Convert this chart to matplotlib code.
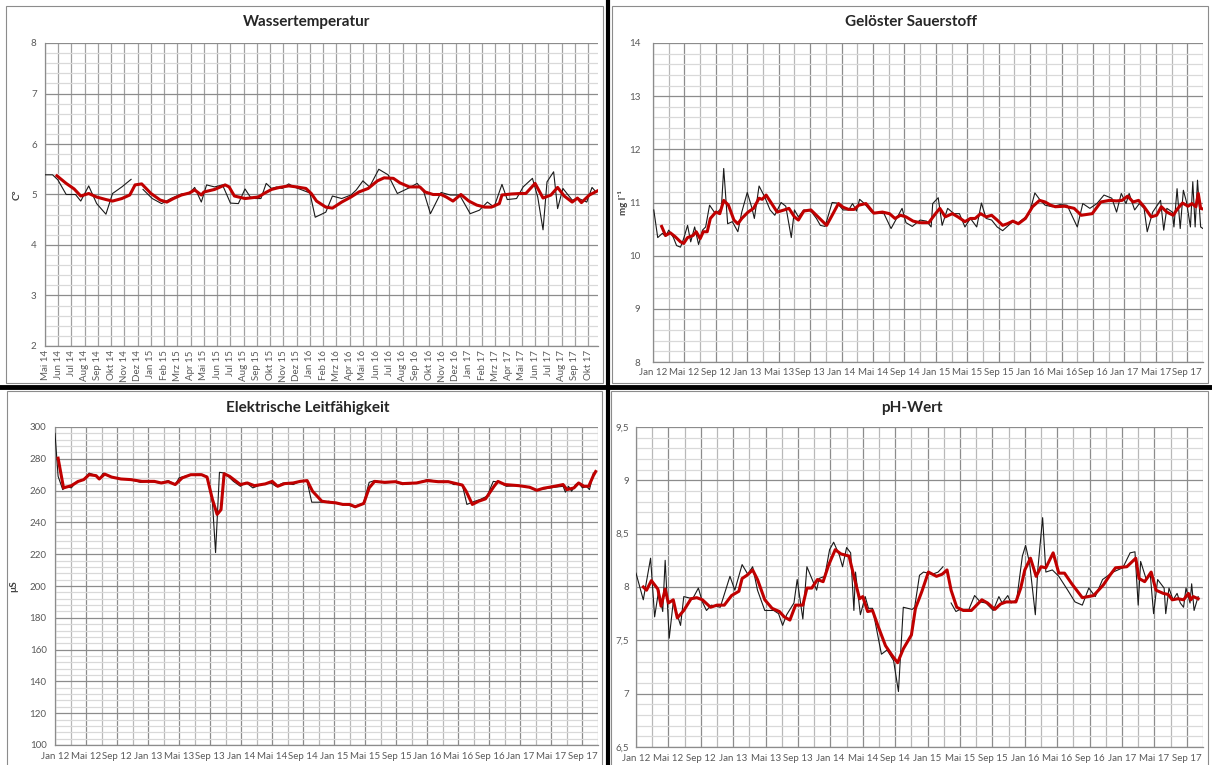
import numpy as np
import matplotlib
matplotlib.use('Agg')
import matplotlib.pyplot as plt
from matplotlib.ticker import MultipleLocator, FixedLocator, FuncFormatter
from matplotlib.lines import Line2D
from matplotlib.patches import Rectangle

plt.rcParams['font.family'] = ['Lato', 'DejaVu Sans']

MONATE = ['Jan', 'Feb', 'Mrz', 'Apr', 'Mai', 'Jun', 'Jul', 'Aug', 'Sep', 'Okt', 'Nov', 'Dez']
nan = np.nan

# Wassertemperatur (x = Kategorie-Index, 0 = Mai 14)
temp_x = [0, 0.57, 0.97, 1.6, 2.3, 2.7, 3.3, 3.9, 4.6, 5.1,
          5.8, 6.5, 6.9, 7.4, 8.1, 8.8, 9.5, 10.3, 10.9, 11.3,
          11.8, 12.2, 12.8, 13.4, 14.0, 14.6, 15.1, 15.5, 15.9, 16.3,
          16.7, 17.1, 17.5, 17.9, 18.4, 18.8, 19.4, 20.0, 20.4, 21.2,
          21.7, 22.4, 23.1, 23.5, 24.0, 24.5, 25.2, 25.9, 26.6, 27.4,
          28.1, 28.6, 29.1, 29.9, 30.6, 31.3, 32.1, 32.8, 33.4, 33.9,
          34.5, 34.9, 35.6, 36.1, 36.8, 37.2, 37.6, 37.9, 38.4, 38.7,
          39.1, 39.8, 40.3, 40.9, 41.3, 41.6]
temp_y = [5.39, 5.39, 5.29, 5.00, 5.00, 4.87, 5.17, 4.82, 4.61, 5.02,
          5.15, 5.30, nan, 5.10, 4.92, 4.82, 4.92, 5.01, 5.02, 5.14,
          4.85, 5.19, 5.15, 5.19, 4.83, 4.82, 5.11, 4.95, 4.92, 4.92,
          5.22, 5.12, 5.15, 5.12, 5.21, 5.15, 5.09, 5.03, 4.55, 4.65,
          4.97, 4.92, 4.99, 5.09, 5.27, 5.15, 5.50, 5.39, 5.02, 5.12,
          5.22, 5.05, 4.62, 5.04, 4.99, 4.99, 4.62, 4.69, 4.85, 4.75,
          5.20, 4.90, 4.92, 5.15, 5.32, 4.95, 4.30, 5.25, 5.45, 4.72,
          5.12, 4.89, 4.92, 4.85, 5.14, 5.05]
temp_avg_x = [0.9, 1.6, 2.2, 2.7, 3.3, 3.9, 4.6, 5.1, 5.8, 6.4,
              6.8, 7.3, 8.0, 8.7, 9.2, 9.7, 10.3, 10.9, 11.3, 11.8,
              12.0, 12.8, 13.6, 13.9, 14.3, 15.1, 16.1, 16.6, 17.1, 17.7,
              18.4, 19.0, 19.7, 20.1, 20.5, 21.2, 21.7, 22.4, 23.1, 23.7,
              24.4, 25.1, 25.6, 26.3, 26.8, 27.5, 28.3, 28.7, 29.3, 29.9,
              30.3, 30.8, 31.4, 32.0, 32.6, 33.2, 33.7, 34.3, 34.5, 35.2,
              35.9, 36.3, 37.0, 37.6, 38.2, 38.7, 39.2, 39.8, 40.2, 40.5,
              41.1, 41.7]
temp_avg_y = [5.37, 5.22, 5.11, 4.97, 5.02, 4.95, 4.90, 4.87, 4.92, 4.99,
              5.19, 5.21, 5.02, 4.89, 4.85, 4.92, 4.99, 5.03, 5.09, 4.99,
              5.05, 5.10, 5.19, 5.15, 4.97, 4.92, 4.95, 5.03, 5.10, 5.14,
              5.17, 5.15, 5.12, 5.02, 4.87, 4.75, 4.73, 4.85, 4.95, 5.05,
              5.12, 5.27, 5.33, 5.32, 5.23, 5.15, 5.15, 5.05, 5.00, 5.00,
              4.95, 4.87, 5.00, 4.87, 4.79, 4.75, 4.75, 4.82, 4.99, 5.01,
              5.02, 5.02, 5.22, 4.93, 4.99, 5.14, 4.97, 4.85, 4.93, 4.84,
              4.99, 5.07]

# Gelöster Sauerstoff (x = Monate seit Jan 12)
o2_x = [0.1, 0.6, 1.2, 1.6, 2.0, 2.6, 3.0, 3.5, 3.9, 4.4,
        4.8, 5.3, 5.8, 6.3, 6.7, 7.2, 7.8, 8.2, 8.7, 9.0,
        9.5, 10.1, 10.8, 11.3, 12.0, 12.6, 12.9, 13.5, 14.2, 14.9,
        15.5, 16.3, 16.9, 17.6, 18.0, 18.5, 19.2, 20.1, 20.8, 21.3,
        21.9, 22.8, 23.4, 24.2, 24.9, 25.4, 25.9, 26.3, 26.9, 27.8,
        28.7, 29.4, 30.3, 31.0, 31.7, 32.2, 33.0, 34.0, 34.8, 35.4,
        35.6, 36.3, 36.8, 37.5, 38.3, 39.0, 39.7, 40.4, 41.2, 41.8,
        42.4, 43.1, 43.8, 44.5, 45.1, 45.8, 46.5, 47.2, 47.9, 48.6,
        49.2, 49.9, 50.8, 51.8, 52.7, 53.3, 54.0, 54.7, 55.6, 56.5,
        57.4, 58.4, 59.0, 59.6, 60.2, 60.6, 61.3, 61.9, 62.5, 62.9,
        63.6, 64.6, 65.0, 65.4, 66.1, 66.3, 66.7, 67.1, 67.5, 67.9,
        68.4, 68.7, 69.0, 69.3, 69.7, 70.3]
o2_y = [10.86, 10.34, 10.42, 10.36, 10.48, 10.34, 10.19, 10.16, 10.32, 10.57,
        10.26, 10.54, 10.21, 10.48, 10.54, 10.95, 10.82, 10.82, 10.89, 11.64,
        10.60, 10.64, 10.45, 10.82, 11.19, 10.89, 10.70, 11.31, 11.11, 10.86,
        10.76, 11.00, 10.93, 10.34, 10.86, 10.73, 10.86, 10.84, 10.70, 10.57,
        10.55, 11.00, 10.99, 10.86, 10.86, 10.98, 10.84, 11.06, 10.98, 10.82,
        10.80, 10.79, 10.51, 10.70, 10.89, 10.62, 10.55, 10.67, 10.65, 10.54,
        10.98, 11.09, 10.57, 10.89, 10.79, 10.79, 10.54, 10.70, 10.54, 10.99,
        10.70, 10.67, 10.54, 10.47, 10.55, 10.64, 10.62, 10.70, 10.79, 11.18,
        11.06, 10.95, 10.92, 10.96, 10.95, 10.76, 10.54, 10.98, 10.89, 10.98,
        11.14, 11.08, 10.82, 11.17, 10.98, 11.17, 10.86, 10.98, 10.89, 10.45,
        10.82, 11.04, 10.48, 10.89, 10.82, 10.54, 11.26, 10.51, 11.23, 11.01,
        10.54, 11.39, 10.54, 11.42, 10.54, 10.48]
o2_avg_x = [1.1, 1.6, 2.2, 2.8, 3.5, 3.9, 4.4, 5.1, 5.5, 6.0,
            6.4, 6.9, 7.3, 8.0, 8.5, 9.0, 9.6, 10.3, 10.8, 11.3,
            12.1, 12.8, 13.5, 13.9, 14.4, 15.1, 15.8, 16.7, 17.3, 18.0,
            18.5, 19.2, 20.1, 21.0, 22.1, 22.8, 23.6, 24.2, 24.9, 25.6,
            26.2, 27.1, 28.1, 29.2, 30.1, 30.8, 31.5, 32.2, 33.1, 34.0,
            35.1, 35.8, 36.5, 37.2, 38.1, 38.8, 39.7, 40.4, 41.0, 41.7,
            42.4, 43.1, 43.8, 44.5, 45.1, 45.8, 46.5, 47.4, 48.3, 49.2,
            49.9, 50.6, 51.2, 52.4, 53.6, 54.5, 55.9, 57.0, 58.1, 59.0,
            59.7, 60.4, 61.1, 61.8, 62.5, 63.4, 64.1, 64.7, 65.4, 66.2,
            66.8, 67.4, 68.1, 68.6, 69.1, 69.4, 69.7, 70.2]
o2_avg_y = [10.55, 10.38, 10.43, 10.36, 10.26, 10.23, 10.34, 10.38, 10.45, 10.32,
            10.45, 10.45, 10.70, 10.82, 10.79, 11.04, 10.95, 10.67, 10.60, 10.70,
            10.82, 10.89, 11.08, 11.06, 11.14, 10.98, 10.82, 10.86, 10.89, 10.73,
            10.67, 10.84, 10.86, 10.73, 10.57, 10.76, 10.98, 10.91, 10.87, 10.87,
            10.95, 10.98, 10.80, 10.82, 10.79, 10.70, 10.76, 10.73, 10.65, 10.62,
            10.62, 10.76, 10.89, 10.73, 10.79, 10.73, 10.64, 10.70, 10.70, 10.79,
            10.73, 10.76, 10.67, 10.57, 10.60, 10.65, 10.60, 10.70, 10.92, 11.04,
            11.01, 10.95, 10.92, 10.93, 10.89, 10.76, 10.79, 11.01, 11.04, 11.03,
            11.04, 11.12, 11.01, 11.04, 10.92, 10.73, 10.76, 10.92, 10.82, 10.76,
            10.89, 10.99, 10.93, 10.98, 10.92, 11.17, 10.89, 10.87]

# Elektrische Leitfähigkeit (x = Monate seit Jan 12)
lf_x = [0.0, 0.4, 1.0, 1.4, 2.1, 2.8, 3.7, 4.4, 5.0, 5.7,
        6.2, 7.3, 8.5, 9.8, 11.0, 12.1, 13.5, 14.6, 15.5, 16.0,
        17.5, 18.7, 19.6, 20.3, 20.7, 21.2, 21.9, 23.0, 23.9, 24.6,
        25.5, 26.6, 27.8, 28.5, 29.4, 30.7, 31.6, 32.5, 33.1, 34.8,
        35.3, 36.2, 37.5, 38.5, 39.8, 40.5, 41.2, 42.5, 43.9, 44.8,
        46.6, 48.0, 49.4, 50.7, 51.4, 52.5, 53.1, 54.1, 54.8, 55.7,
        56.5, 57.3, 58.2, 59.4, 60.7, 62.1, 63.0, 64.4, 65.5, 65.8,
        66.2, 66.6, 67.1, 67.5, 68.0, 68.5, 68.9, 69.4]
lf_y = [296, 269, 260.6, 262.7, 261.7, 265.8, 266.9, 271, 270, 266.9,
        271, 268.5, 267.3, 266.9, 265.2, 265.8, 264.8, 266.3, 263.8, 268,
        270, 270.4, 269, 252.3, 221, 271.5, 271, 265.8, 262.7, 265.2,
        261.7, 263.8, 264.8, 262.7, 264.8, 263.8, 265.8, 265.8, 252.7, 252.7,
        253.3, 251.9, 251.3, 249.8, 252.3, 265.2, 266.3, 264.8, 265.4, 263.8,
        264.8, 266.9, 265.8, 265.8, 263.8, 263.8, 251.3, 253.3, 254.4, 256.5,
        265.8, 265.2, 262.7, 263.1, 262.7, 260.2, 261, 262.1, 262.7, 259,
        262.7, 259.6, 263.8, 264.8, 261.7, 262.7, 260.6, 271]
lf_avg_x = [0.4, 1.1, 2.1, 3.0, 3.7, 4.4, 5.3, 5.7, 6.4, 7.3,
            8.5, 9.8, 11.2, 12.8, 13.7, 14.6, 15.5, 16.4, 17.5, 18.9,
            19.6, 20.3, 20.9, 21.4, 21.8, 22.5, 23.9, 24.8, 25.7, 27.1,
            28.0, 28.7, 29.6, 30.7, 31.6, 32.5, 33.2, 34.4, 35.3, 36.2,
            37.1, 38.0, 38.7, 39.8, 40.5, 41.2, 42.5, 43.9, 44.8, 46.6,
            48.0, 49.4, 50.7, 52.5, 53.0, 53.8, 54.6, 55.5, 56.6, 57.1,
            58.0, 59.8, 61.2, 62.1, 63.0, 64.4, 65.5, 66.0, 66.9, 67.5,
            68.2, 68.8, 69.4, 69.7]
lf_avg_y = [280.4, 261.7, 263.1, 265.8, 266.9, 270, 269.4, 267.3, 270.4, 268.5,
            267.3, 266.9, 265.8, 265.8, 264.8, 265.6, 263.8, 268, 270, 270,
            268.5, 254.4, 245, 248, 270.6, 269, 263.8, 264.8, 263.1, 264.2,
            265.8, 262.7, 264.4, 264.8, 265.8, 266.3, 259.6, 253.3, 252.7, 252.3,
            251.3, 251.3, 249.8, 251.9, 261.7, 265.8, 265.2, 265.6, 264.4, 264.8,
            266.3, 265.6, 265.6, 263.5, 259.6, 251.3, 253.3, 254.8, 262.7, 265.8,
            263.8, 263.1, 262.1, 260.2, 261.5, 262.7, 263.8, 260.6, 261.7, 264.8,
            262.7, 262.7, 269.4, 272]

# pH-Wert (x = Monate seit Jan 12)
ph_x = [0.0, 0.9, 1.8, 2.3, 2.8, 3.3, 3.6, 4.1, 4.6, 5.5,
        5.9, 7.0, 7.7, 8.2, 8.7, 9.3, 10.4, 11.6, 12.2, 13.1,
        13.8, 14.4, 15.0, 15.9, 17.0, 17.6, 18.1, 18.6, 19.5, 19.9,
        20.6, 21.1, 21.7, 22.3, 22.6, 23.3, 23.9, 24.4, 25.1, 25.5,
        26.0, 26.5, 26.9, 27.1, 27.7, 28.3, 28.7, 29.2, 30.3, 31.0,
        31.8, 32.4, 33.0, 34.1, 34.4, 35.0, 35.5, 36.6, 37.3, 37.9,
        38.4, 38.9, 39.5, 40.0, 41.1, 41.8, 42.5, 43.2, 44.1, 44.8,
        45.2, 45.9, 46.3, 47.0, 47.7, 48.1, 48.6, 49.3, 49.6, 50.2,
        50.6, 51.4, 52.2, 53.3, 54.2, 55.1, 55.9, 56.7, 57.6, 58.9,
        60.1, 61.0, 61.6, 62.0, 62.3, 63.0, 63.5, 63.9, 64.4, 65.2,
        65.4, 65.8, 66.3, 66.8, 67.2, 67.6, 67.9, 68.4, 68.6, 68.9,
        69.4]
ph_y = [8.13, 7.88, 8.27, 7.72, 7.97, 7.77, 8.25, 7.52, 7.86, 7.64,
        7.91, 7.89, 7.99, 7.86, 7.78, 7.83, 7.81, 8.10, 7.97, 8.21,
        8.12, 8.19, 7.97, 7.78, 7.78, 7.75, 7.64, 7.74, 7.85, 8.07,
        7.70, 8.19, 8.08, 7.97, 8.08, 8.10, 8.35, 8.42, 8.30, 8.19,
        8.37, 8.32, 7.78, 8.14, 7.74, 7.91, 7.80, 7.80, 7.37, 7.41,
        7.31, 7.02, 7.81, 7.79, 7.81, 8.11, 8.14, 8.12, 8.14, 8.19,
        nan, 7.85, 7.77, 7.79, 7.79, 7.92, 7.86, 7.85, 7.78, 7.91,
        7.85, 7.92, 7.85, 7.88, 8.29, 8.39, 8.22, 7.74, 8.16, 8.65,
        8.14, 8.16, 8.10, 7.97, 7.86, 7.83, 7.99, 7.91, 8.07, 8.14,
        8.18, 8.32, 8.33, 7.83, 8.24, 8.07, 8.11, 7.75, 8.07, 7.99,
        7.75, 7.99, 7.88, 7.94, 7.85, 7.81, 7.99, 7.85, 8.03, 7.78,
        7.91]
ph_avg_x = [0.9, 1.3, 1.9, 2.7, 3.1, 3.6, 4.0, 4.6, 5.1, 5.9,
            6.8, 7.5, 8.2, 9.2, 10.0, 10.9, 11.8, 12.7, 13.1, 13.7,
            14.4, 15.0, 15.9, 16.8, 17.7, 18.3, 19.0, 19.7, 20.6, 21.1,
            21.7, 22.4, 23.1, 23.8, 24.6, 25.3, 26.3, 26.9, 27.6, 28.0,
            28.6, 29.2, 29.9, 30.8, 31.6, 32.3, 33.0, 34.0, 34.5, 35.3,
            36.1, 37.1, 37.8, 38.4, 38.9, 39.6, 40.4, 41.4, 42.7, 43.4,
            44.3, 45.0, 45.7, 46.9, 47.5, 48.0, 48.7, 49.4, 50.0, 50.6,
            51.5, 52.2, 52.9, 53.8, 55.1, 56.5, 57.7, 58.5, 59.2, 60.6,
            61.7, 62.1, 62.8, 63.6, 64.2, 65.1, 65.7, 66.2, 66.9, 67.6,
            68.2, 68.5, 68.8, 69.4]
ph_avg_y = [8.00, 7.97, 8.06, 7.98, 7.82, 7.98, 7.85, 7.88, 7.71, 7.78,
            7.89, 7.90, 7.88, 7.81, 7.83, 7.83, 7.92, 7.96, 8.08, 8.11,
            8.16, 8.07, 7.88, 7.80, 7.77, 7.72, 7.69, 7.83, 7.83, 7.99,
            7.99, 8.07, 8.05, 8.21, 8.35, 8.31, 8.29, 8.10, 7.89, 7.91,
            7.77, 7.78, 7.63, 7.45, 7.36, 7.29, 7.42, 7.55, 7.80, 7.96,
            8.14, 8.10, 8.12, 8.16, 7.97, 7.81, 7.78, 7.78, 7.88, 7.85,
            7.79, 7.84, 7.86, 7.86, 7.99, 8.16, 8.27, 8.10, 8.19, 8.18,
            8.32, 8.13, 8.13, 8.03, 7.90, 7.92, 8.02, 8.11, 8.18, 8.19,
            8.27, 8.08, 8.05, 8.14, 7.97, 7.94, 7.93, 7.88, 7.89, 7.88,
            7.94, 7.88, 7.91, 7.89]

# Achsenbeschriftungen
temp_labels = [f'{MONATE[(4 + i) % 12]} {14 + (4 + i) // 12}' for i in range(42)]
date_ticks = list(range(0, 69, 4))
date_labels = [f'{MONATE[m % 12]} {12 + m // 12}' for m in date_ticks]

W, H = 1212, 765
fig = plt.figure(figsize=(W / 100, H / 100), dpi=100)


def fx(p):
    return p / W


def fy(p):
    return 1 - p / H


def panel(left, top, right, bottom):
    return fig.add_axes([fx(left), fy(bottom), fx(right) - fx(left), fy(top) - fy(bottom)])


TXT = '#595959'
RED = '#c00000'


def style(ax, ylim, ymaj, ymin, ypad, xpad):
    ax.set_ylim(*ylim)
    ax.yaxis.set_major_locator(MultipleLocator(ymaj))
    ax.yaxis.set_minor_locator(MultipleLocator(ymin))
    ax.yaxis.grid(True, which='minor', color='#d9d9d9', lw=0.9)
    ax.yaxis.grid(True, which='major', color='#8c8c8c', lw=0.9)
    ax.set_axisbelow(True)
    for s in ['top', 'right']:
        ax.spines[s].set_visible(False)
    for s in ['left', 'bottom']:
        ax.spines[s].set_color('#8c8c8c')
        ax.spines[s].set_linewidth(0.9)
    ax.tick_params(which='both', length=0, labelsize=7, labelcolor=TXT)
    ax.tick_params(axis='y', pad=ypad)
    ax.tick_params(axis='x', pad=xpad)


def date_axis(ax):
    ax.set_xlim(0, 70)
    ax.xaxis.set_major_locator(FixedLocator(date_ticks))
    ax.set_xticklabels(date_labels)
    ax.xaxis.set_minor_locator(MultipleLocator(2))
    ax.xaxis.grid(True, which='minor', color='#b8b8b8', lw=0.9)
    ax.xaxis.grid(True, which='major', color='#8c8c8c', lw=0.9)


def draw(ax, x, y, ax_x, ax_y):
    ax.plot(x, y, color='#1a1a1a', lw=0.8, zorder=3)
    ax.plot(ax_x, ax_y, color=RED, lw=2.2, zorder=4, solid_joinstyle='round')


# Wassertemperatur
ax1 = panel(45, 43, 598, 346)
style(ax1, (2, 8), 1, 0.2, 6, 3)
ax1.set_xlim(0, 41.75)
ax1.xaxis.set_major_locator(FixedLocator(range(42)))
ax1.set_xticklabels(temp_labels, rotation=90, va='top')
ax1.xaxis.grid(True, which='major', color='#a0a0a0', lw=0.9)
draw(ax1, temp_x, temp_y, temp_avg_x, temp_avg_y)
ax1.set_ylabel('C°', fontsize=7, fontweight='bold', color='#404040')
ax1.yaxis.set_label_coords(-0.042, 0.5)

# Gelöster Sauerstoff
ax2 = panel(653, 43, 1203, 362)
style(ax2, (8, 14), 1, 0.2, 9, 4)
date_axis(ax2)
draw(ax2, o2_x, o2_y, o2_avg_x, o2_avg_y)
ax2.set_ylabel('mg l⁻¹', fontsize=7, fontweight='bold', color='#404040')
ax2.yaxis.set_label_coords(-0.045, 0.5)

# Elektrische Leitfähigkeit
ax3 = panel(55, 427, 598, 745)
style(ax3, (100, 300), 20, 4, 6, 5)
date_axis(ax3)
draw(ax3, lf_x, lf_y, lf_avg_x, lf_avg_y)
ax3.set_ylabel('µS', fontsize=7, fontweight='bold', color='#404040')
ax3.yaxis.set_label_coords(-0.068, 0.5)

# pH-Wert
ax4 = panel(636, 427, 1203, 747)
style(ax4, (6.5, 9.5), 0.5, 0.1, 5, 5)
date_axis(ax4)
ax4.yaxis.set_major_formatter(FuncFormatter(lambda v, p: f'{v:g}'.replace('.', ',')))
draw(ax4, ph_x, ph_y, ph_avg_x, ph_avg_y)

# Titel
for (cx, cy, t) in [(307, 22, 'Wassertemperatur'), (911, 22, 'Gelöster Sauerstoff'),
                    (308, 408, 'Elektrische Leitfähigkeit'), (912, 408, 'pH-Wert')]:
    fig.text(fx(cx), fy(cy), t, ha='center', va='center', fontsize=11,
             fontweight='bold', color='#262626')

# Rahmen der Diagrammflächen
for (l, t, r, b) in [(6, 6, 603, 383), (612, 6, 1208, 383), (7, 391, 602, 766), (611, 391, 1208, 766)]:
    fig.add_artist(Rectangle((fx(l), fy(b)), fx(r) - fx(l), fy(t) - fy(b),
                             transform=fig.transFigure, fill=False, edgecolor='#8c8c8c', lw=0.8))

# dicke Trennlinien
fig.add_artist(Line2D([fx(607.5), fx(607.5)], [0, 1], transform=fig.transFigure, color='black', lw=3))
fig.add_artist(Line2D([0, 1], [fy(387), fy(387)], transform=fig.transFigure, color='black', lw=3.5))

fig.savefig('out.png', dpi=100)
